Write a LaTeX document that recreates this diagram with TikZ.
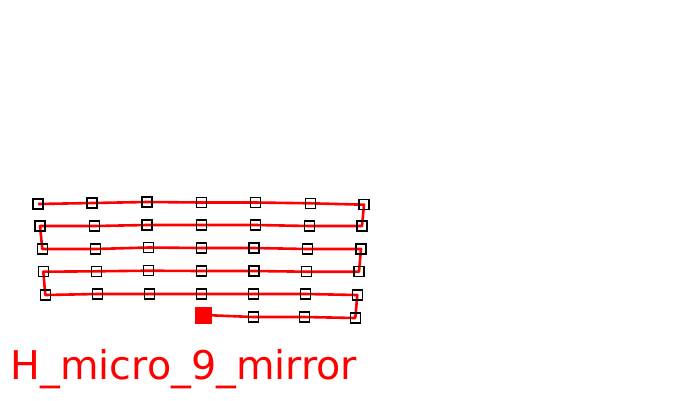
\documentclass[tikz,border=0pt]{standalone}
\usepackage{fontspec}
\newfontfamily\labelfont{DejaVu Sans}
\begin{document}
\begin{tikzpicture}[x=1pt,y=-1pt,
  pt/.style={draw=black,line width=1.5pt,fill=none,minimum size=10pt,inner sep=0pt,shape=rectangle},
  startpt/.style={fill=red,draw=none,minimum size=17pt,inner sep=0pt,shape=rectangle},
  route/.style={draw=red,line width=2.6pt,line join=round}]
\useasboundingbox (0,0) rectangle (700,400);
% row 1
\coordinate (a1) at (38,204);
\coordinate (a2) at (92,203);
\coordinate (a3) at (147,202);
\coordinate (a4) at (201.5,202.5);
\coordinate (a5) at (255.5,202.5);
\coordinate (a6) at (310.5,203.3);
\coordinate (a7) at (364,204.7);
% row 2
\coordinate (b1) at (40,226);
\coordinate (b2) at (94.3,226);
\coordinate (b3) at (147,225);
\coordinate (b4) at (201.5,225);
\coordinate (b5) at (255.5,225);
\coordinate (b6) at (309.3,226);
\coordinate (b7) at (362,226);
% row 3
\coordinate (c1) at (42.3,249);
\coordinate (c2) at (95.3,249);
\coordinate (c3) at (148.3,247.5);
\coordinate (c4) at (201.5,248);
\coordinate (c5) at (254,248);
\coordinate (c6) at (307.3,249);
\coordinate (c7) at (361,249);
% row 4
\coordinate (d1) at (43.3,271.7);
\coordinate (d2) at (96.3,271.3);
\coordinate (d3) at (148.3,270.7);
\coordinate (d4) at (201.5,271);
\coordinate (d5) at (254,271);
\coordinate (d6) at (306.3,271.7);
\coordinate (d7) at (359,271.7);
% row 5
\coordinate (e1) at (45.3,295);
\coordinate (e2) at (97.3,294);
\coordinate (e3) at (149.3,294);
\coordinate (e4) at (201.5,294);
\coordinate (e5) at (253.3,294);
\coordinate (e6) at (305.3,294);
\coordinate (e7) at (357.3,295);
% row 6
\coordinate (f1) at (203.7,315);
\coordinate (f2) at (253.3,317);
\coordinate (f3) at (304.3,317);
\coordinate (f4) at (355.3,318);
% route
\draw[route] (f1) -- (f2) -- (f3) -- (f4) -- (e7) -- (e6) -- (e5) -- (e4) -- (e3) -- (e2) -- (e1)
  -- (d1) -- (d2) -- (d3) -- (d4) -- (d5) -- (d6) -- (d7)
  -- (c7) -- (c6) -- (c5) -- (c4) -- (c3) -- (c2) -- (c1)
  -- (b1) -- (b2) -- (b3) -- (b4) -- (b5) -- (b6) -- (b7)
  -- (a7) -- (a6) -- (a5) -- (a4) -- (a3) -- (a2) -- (a1);
% markers
\foreach \n in {a1,a2,a3,a4,a5,a6,a7,b1,b2,b3,b4,b5,b6,b7,c1,c2,c3,c4,c5,c6,c7,d1,d2,d3,d4,d5,d6,d7,e1,e2,e3,e4,e5,e6,e7,f2,f3,f4}
  \node[pt] (m\n) at (\n) {};
\node[startpt] (start) at (f1) {};
\node[anchor=base west,inner sep=0pt,text=red,font=\labelfont\fontsize{39.6}{45}\selectfont] (title) at (10.5,379) {H\_micro\_9\_mirror};
\end{tikzpicture}
\end{document}
